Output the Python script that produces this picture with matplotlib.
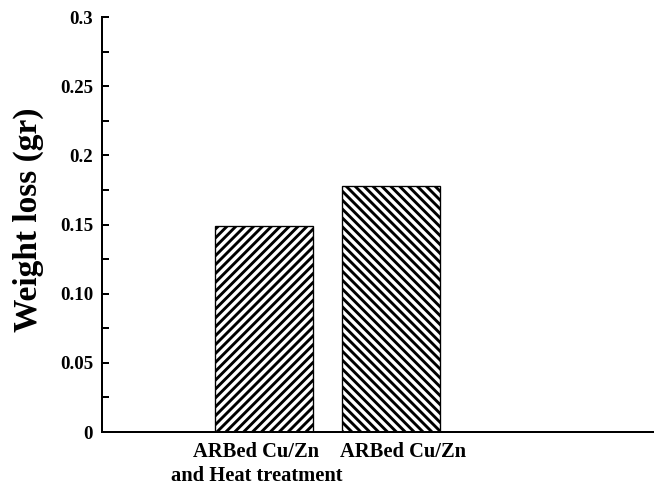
import matplotlib
matplotlib.use('Agg')
import matplotlib.pyplot as plt
from matplotlib.transforms import ScaledTranslation

# data
categories = ['ARBed Cu/Zn\nand Heat treatment', 'ARBed Cu/Zn']
weight_loss = [0.149, 0.178]
hatches = ['///', '\\\\\\']
y_ticks = [0, 0.05, 0.10, 0.15, 0.2, 0.25, 0.3]
y_tick_labels = ['0', '0.05', '0.10', '0.15', '0.2', '0.25', '0.3']

DPI = 80
plt.rcParams['font.family'] = ['Liberation Serif', 'DejaVu Serif']
plt.rcParams['font.weight'] = 'bold'
plt.rcParams['hatch.linewidth'] = 2.6

fig = plt.figure(figsize=(654 / DPI, 487 / DPI), dpi=DPI)
ax = fig.add_axes([0.156, 0.1129, 0.844, 0.852])

x = list(range(len(categories)))
for xi, v, h in zip(x, weight_loss, hatches):
    ax.bar(xi, v, width=0.77, color='white', edgecolor='black',
           linewidth=1.2, hatch=h, zorder=2)

ax.set_xlim(-1.27, 3.06)
ax.set_ylim(0, 0.3)

ax.spines['top'].set_visible(False)
ax.spines['right'].set_visible(False)
ax.spines['left'].set_linewidth(1.8)
ax.spines['bottom'].set_linewidth(1.8)

ax.set_yticks(y_ticks)
ax.set_yticklabels(y_tick_labels, fontsize=17, fontweight='bold')
ax.set_yticks([0.025, 0.075, 0.125, 0.175, 0.225, 0.275], minor=True)
ax.tick_params(axis='y', which='both', direction='in', width=1.8, length=6, pad=8)

ax.set_xticks(x)
ax.set_xticklabels(categories, fontsize=18.5, fontweight='bold', linespacing=1.28)
ax.tick_params(axis='x', length=0, pad=9)

# nudge category labels like in the original
for lbl, dx in zip(ax.get_xticklabels(), [-7.5, 11.5]):
    lbl.set_transform(lbl.get_transform() + ScaledTranslation(dx / DPI, 0, fig.dpi_scale_trans))

ax.set_ylabel('Weight loss (gr)', fontsize=30, fontweight='bold')
ax.yaxis.set_label_coords(-0.106, 0.511)

fig.savefig('out.png', dpi=DPI)
